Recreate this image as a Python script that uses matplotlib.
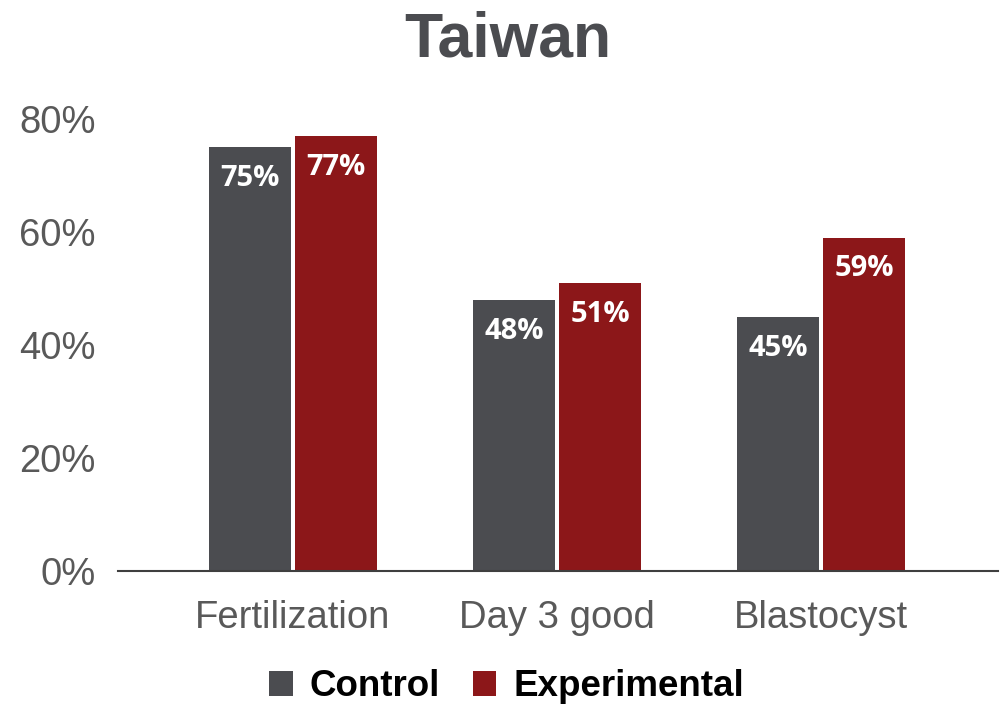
import numpy as np
import matplotlib
matplotlib.use("Agg")
import matplotlib.pyplot as plt
from matplotlib.patches import Patch

plt.rcParams["font.family"] = ["Liberation Sans", "DejaVu Sans"]

TITLE = "Taiwan"
CATEGORIES = ["Fertilization", "Day 3 good", "Blastocyst"]
SERIES = ["Control", "Experimental"]
CONTROL = [75, 48, 45]
EXPERIMENTAL = [77, 51, 59]
Y_TICKS = [0, 20, 40, 60, 80]

COLORS = {"Control": "#4b4c50", "Experimental": "#8c1719"}
TEXT_GRAY = "#595959"

fig = plt.figure(figsize=(10.05, 7.06), dpi=100)
ax = fig.add_axes([118 / 1005, 1 - 571 / 706, (998 - 118) / 1005, (571 - 119) / 706])

x = np.arange(len(CATEGORIES))
width = 0.31
offset = 0.163

for vals, name, sign in [(CONTROL, "Control", -1), (EXPERIMENTAL, "Experimental", 1)]:
    bars = ax.bar(x + sign * offset, vals, width, color=COLORS[name], zorder=2)
    for bar, v in zip(bars, vals):
        ax.annotate(f"{v}%", (bar.get_x() + bar.get_width() / 2, v),
                    xytext=(0, -22.5), textcoords="offset points",
                    ha="center", va="center", color="white",
                    fontsize=21, fontweight="bold", family=["Open Sans", "DejaVu Sans"])

ax.set_xlim(-0.663, len(CATEGORIES) - 1 + 0.67)
ax.set_ylim(0, 80)
ax.set_yticks(Y_TICKS)
ax.set_yticklabels([f"{t}%" for t in Y_TICKS])
ax.set_xticks(x)
ax.set_xticklabels(CATEGORIES)
ax.tick_params(axis="both", length=0, labelsize=27.5, colors=TEXT_GRAY)
ax.tick_params(axis="y", pad=16)
ax.tick_params(axis="x", pad=21)

for side in ["top", "right", "left"]:
    ax.spines[side].set_visible(False)
ax.spines["bottom"].set_color("#3f3f3f")
ax.spines["bottom"].set_linewidth(1.5)

fig.text(0.505, 1 - 40 / 706, TITLE, ha="center", va="center",
         fontsize=45, fontweight="bold", color="#4b4c50")

handles = [Patch(facecolor=COLORS[s], edgecolor="none") for s in SERIES]
fig.legend(handles, SERIES, loc="center", bbox_to_anchor=(0.504, 1 - 687 / 706),
           ncol=2, frameon=False, handlelength=0.64, handleheight=0.64,
           handletextpad=0.45, columnspacing=0.9,
           prop={"size": 26.5, "weight": "bold"})

fig.savefig("out.png", dpi=100)
